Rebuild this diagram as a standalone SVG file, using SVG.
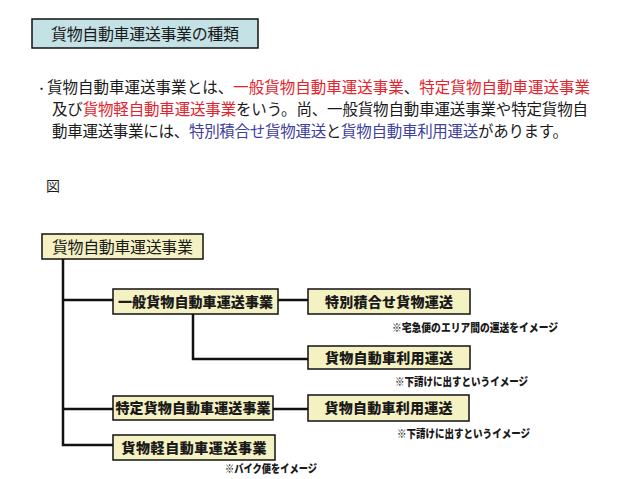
<svg xmlns="http://www.w3.org/2000/svg" width="638" height="479" viewBox="0 0 638 479">
<style>
text{font-family:"Noto Sans CJK JP","Noto Sans CJK SC",sans-serif;fill:#1a1a1a}
.body{font-size:15.5px}
.red{fill:#e4222c}
.blue{fill:#40409e}
.box{fill:#f4f1c2;stroke:#111;stroke-width:1.5}
.bt{font-size:14px;font-weight:900;text-anchor:middle}
.note{font-size:11.5px;font-weight:900}
.conn{fill:none;stroke:#111;stroke-width:2.5}
</style>
<rect width="638" height="479" fill="#fff"/>
<g id="title">
<rect x="32" y="19" width="226" height="29" fill="#c4e2e5" stroke="#111" stroke-width="1.5"/>
<text x="145" y="40" font-size="16" text-anchor="middle" textLength="188" lengthAdjust="spacing">貨物自動車運送事業の種類</text>
</g>
<g id="description">
<text class="body" x="36" y="93" textLength="554" lengthAdjust="spacing"><tspan font-size="11">・</tspan>貨物自動車運送事業とは、<tspan class="red">一般貨物自動車運送事業</tspan>、<tspan class="red">特定貨物自動車運送事業</tspan></text>
<text class="body" x="52" y="115" textLength="536" lengthAdjust="spacing">及び<tspan class="red">貨物軽自動車運送事業</tspan>をいう。尚、一般貨物自動車運送事業や特定貨物自</text>
<text class="body" x="52" y="137" textLength="516" lengthAdjust="spacing">動車運送事業には、<tspan class="blue">特別積合せ貨物運送</tspan>と<tspan class="blue">貨物自動車利用運送</tspan>があります。</text>
<text x="46" y="191" font-size="14">図</text>
</g>
<g id="connectors">
<path class="conn" d="M63,259 V445 H113"/>
<path class="conn" d="M63,300 H113"/>
<path class="conn" d="M63,409 H113"/>
<path class="conn" d="M278,300 H308"/>
<path class="conn" d="M193,314 V359 H308"/>
<path class="conn" d="M273,409 H308"/>
</g>
<g id="root">
<rect class="box" x="42" y="234" width="161" height="25"/>
<text x="122.5" y="252.5" font-size="16" text-anchor="middle" textLength="141" lengthAdjust="spacing">貨物自動車運送事業</text>
</g>
<g id="ippan">
<rect class="box" x="113" y="289" width="165" height="25"/>
<text class="bt" x="195.5" y="306.5" textLength="155" lengthAdjust="spacing">一般貨物自動車運送事業</text>
</g>
<g id="tokubetsu">
<rect class="box" x="308" y="289" width="162" height="25"/>
<text class="bt" x="389" y="306.5" textLength="128" lengthAdjust="spacing">特別積合せ貨物運送</text>
</g>
<g id="riyou1">
<rect class="box" x="308" y="346" width="162" height="23"/>
<text class="bt" x="389" y="362.5" textLength="128" lengthAdjust="spacing">貨物自動車利用運送</text>
</g>
<g id="tokutei">
<rect class="box" x="113" y="396" width="160" height="24"/>
<text class="bt" x="193" y="413" textLength="155" lengthAdjust="spacing">特定貨物自動車運送事業</text>
</g>
<g id="riyou2">
<rect class="box" x="308" y="395" width="161" height="26"/>
<text class="bt" x="388.5" y="413" textLength="128" lengthAdjust="spacing">貨物自動車利用運送</text>
</g>
<g id="kei">
<rect class="box" x="113" y="435" width="162" height="25"/>
<text class="bt" x="194" y="452.5" textLength="145" lengthAdjust="spacing">貨物軽自動車運送事業</text>
</g>
<g id="notes">
<text class="note" x="392" y="331.5" textLength="166" lengthAdjust="spacingAndGlyphs">※宅急便のエリア間の運送をイメージ</text>
<text class="note" x="395" y="386" textLength="133" lengthAdjust="spacingAndGlyphs">※下請けに出すというイメージ</text>
<text class="note" x="397" y="438" textLength="133" lengthAdjust="spacingAndGlyphs">※下請けに出すというイメージ</text>
<text class="note" x="225" y="472.5" textLength="92" lengthAdjust="spacingAndGlyphs">※バイク便をイメージ</text>
</g>
</svg>
